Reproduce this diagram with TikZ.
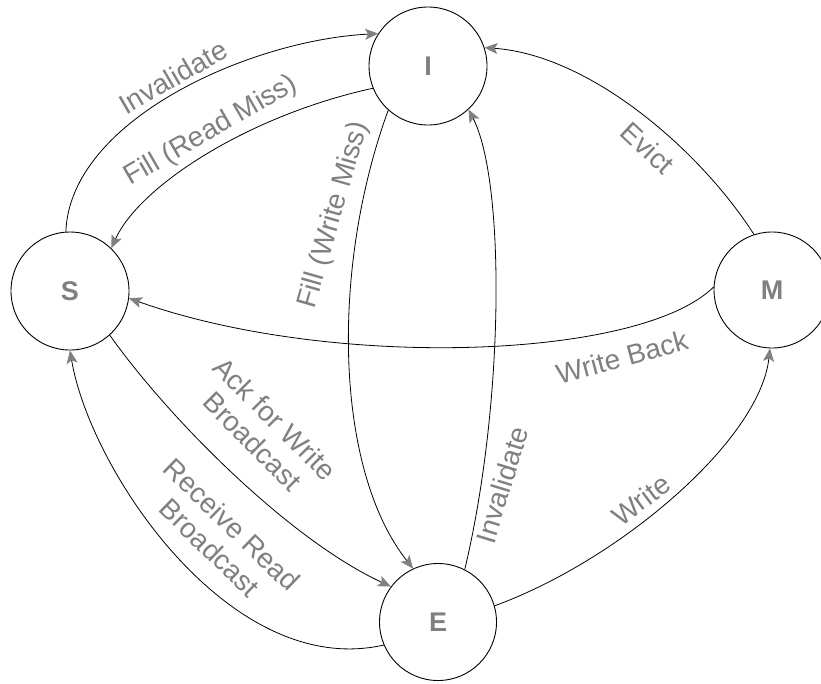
\documentclass[tikz,border=0pt]{standalone}
\usepackage{fontspec}
\setmainfont{Liberation Sans}
\usetikzlibrary{arrows.meta}
\definecolor{labelgray}{HTML}{808080}
\begin{document}
\begin{tikzpicture}[x=1pt,y=-1pt,
  state/.style={circle,draw=black,line width=0.9pt,minimum size=118pt,inner sep=0pt,
    font=\fontsize{27}{30}\selectfont\bfseries,text=labelgray},
  edge/.style={draw=black,line width=0.8pt,
    -{Stealth[length=13pt,width=11pt,inset=3pt,color=labelgray]}},
  lbl/.style={font=\fontsize{28}{32}\selectfont,text=labelgray,inner sep=0pt,align=center}]
\useasboundingbox (0,0) rectangle (821,683);
\fill[white] (0,0) rectangle (821,683);

\node[state] (I) at (428,66) {I};
\node[state] (S) at (70,291) {S};
\node[state,minimum size=116pt] (M) at (772,290) {M};
\node[state,minimum size=117pt] (E) at (438,622) {E};

% S -> I  Invalidate
\draw[edge] (S.94) .. controls (70,120) and (250,40) .. (I.147);
% I -> S  Fill (Read Miss)
\draw[edge] (I.202) .. controls (250,115) and (140,185) .. (S.46);
% I -> E  Fill (Write Miss)
\draw[edge] (I.228) .. controls (330,270) and (335,470) .. (E.115);
% E -> I  Invalidate
\draw[edge] (E.63) .. controls (505,400) and (505,180) .. (I.-47);
% M -> I  Evict
\draw[edge] (M.108) .. controls (700,150) and (590,55) .. (I.18);
% M -> S  Write Back
\draw[edge] (M.177) .. controls (640,360) and (330,370) .. (S.-7);
% S -> E  Ack for Write Broadcast
\draw[edge] (S.-48) .. controls (170,420) and (290,540) .. (E.143);
% E -> S  Receive Read Broadcast
\draw[edge] (E.203) .. controls (230,680) and (90,470) .. (S.-90);
% E -> M  Write
\draw[edge] (E.16) .. controls (620,560) and (760,440) .. (M.-92);

\node[lbl,rotate=30] (l1) at (173,77) {Invalidate};
\node[lbl,rotate=30] (l2) at (211,131) {Fill (Read Miss)};
\node[lbl,rotate=74] (l3) at (334,215) {Fill (Write Miss)};
\node[lbl,rotate=73] (l4) at (502,485) {Invalidate};
\node[lbl,rotate=-43] (l5) at (648,148) {Evict};
\node[lbl,rotate=15] (l6) at (622,357) {Write Back};
\node[lbl,rotate=37] (l7) at (641,500) {Write};
\node[lbl,rotate=-45] (l8) at (264,430) {Ack for Write\\Broadcast};
\node[lbl,rotate=-44] (l9) at (221,536) {Receive Read\\Broadcast};
\end{tikzpicture}
\end{document}
